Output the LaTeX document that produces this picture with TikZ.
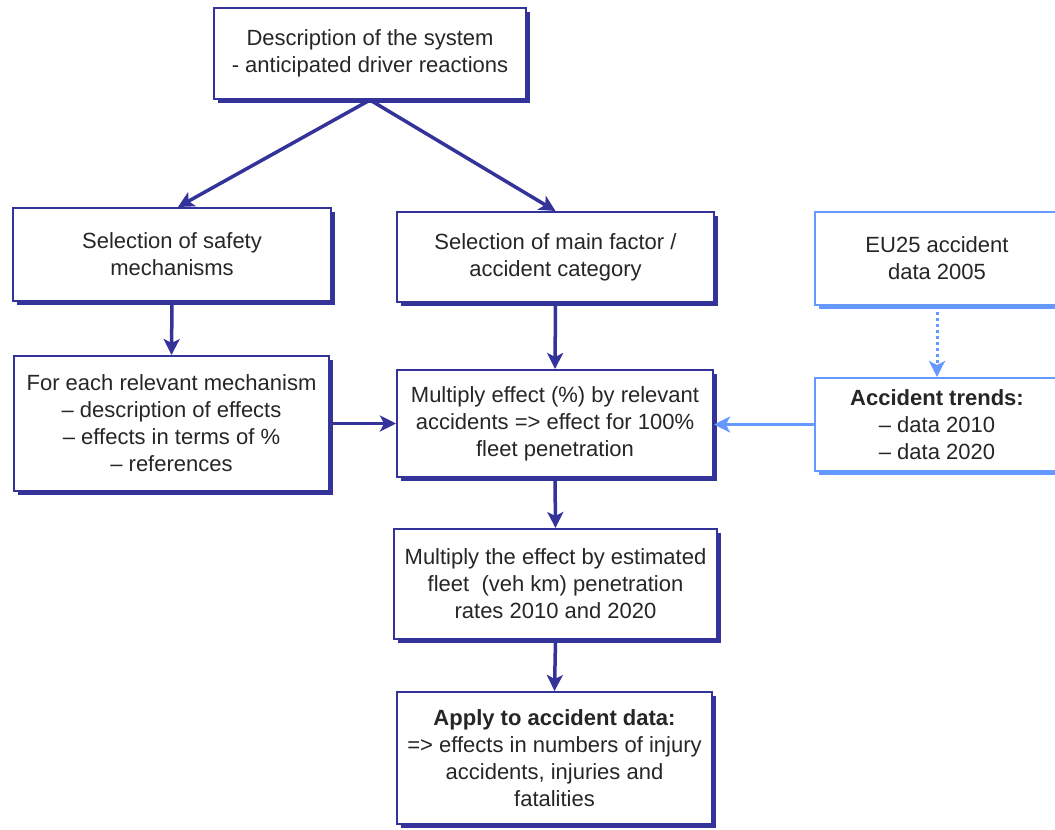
\documentclass[tikz,border=0pt]{standalone}
\usepackage{fontspec}
\setmainfont{Liberation Sans}
\usetikzlibrary{arrows.meta,shadows}
\definecolor{dblue}{HTML}{333399}
\definecolor{lblue}{HTML}{6699FF}
\begin{document}
\begin{tikzpicture}[x=1pt,y=-1pt,
  basebox/.style={line width=2pt, fill=white, text=black!85, align=center, inner sep=0pt,
    font=\fontsize{22}{27}\selectfont},
  box/.style={basebox, draw=dblue,
    drop shadow={shadow xshift=3.5pt, shadow yshift=-3.5pt, fill=dblue, opacity=1}},
  lbox/.style={basebox, draw=lblue,
    drop shadow={shadow xshift=3.5pt, shadow yshift=-3.5pt, fill=lblue, opacity=1}},
  arr/.style={draw=dblue, line width=3.5pt, -{Stealth[length=16pt,width=16pt,inset=4pt]}},
  larr/.style={draw=lblue, line width=3pt, -{Stealth[length=16pt,width=16pt,inset=4pt]}},
  ldot/.style={larr, dash pattern=on 3pt off 3pt}
]
\useasboundingbox (0,0) rectangle (1055,830);
\clip (0,0) rectangle (1055,830);

\node[box, minimum width=312pt, minimum height=91pt] (top) at (370,53.5)
  {Description of the system\\- anticipated driver reactions};
\node[box, minimum width=318pt, minimum height=93pt] (safety) at (172,254.5)
  {Selection of safety\\mechanisms};
\node[box, minimum width=317pt, minimum height=90pt] (factor) at (555.5,257)
  {Selection of main factor /\\accident category};
\node[lbox, minimum width=244pt, minimum height=93pt] (eu) at (937,258.5)
  {EU25 accident\\data 2005};
\node[box, minimum width=315pt, minimum height=135pt] (foreach) at (171.5,423.5)
  {For each relevant mechanism\\– description of effects\\– effects in terms of \%\\– references};
\node[box, minimum width=316pt, minimum height=107pt] (mult) at (555,423.5)
  {Multiply effect (\%) by relevant\\accidents => effect for 100\%\\fleet penetration};
\node[lbox, minimum width=244pt, minimum height=93pt] (trends) at (937,424.5)
  {\textbf{Accident trends:}\\– data 2010\\– data 2020};
\node[box, minimum width=323pt, minimum height=110pt] (fleet) at (555.5,584)
  {Multiply the effect by estimated\\fleet \ (veh km) penetration\\rates 2010 and 2020};
\node[box, minimum width=315pt, minimum height=132pt] (apply) at (554.5,758)
  {\textbf{Apply to accident data:}\\=> effects in numbers of injury\\accidents, injuries and\\fatalities};

\draw[arr] (top.south) -- ([xshift=6pt]safety.north);
\draw[arr] (top.south) -- (factor.north);
\draw[arr] (safety.south) -- (foreach.north);
\draw[arr] (factor.south) -- (mult.north);
\draw[arr] (foreach.east) -- (mult.west);
\draw[larr] (trends.west) -- (trends.west -| mult.east);
\draw[ldot] (eu.south) -- (trends.north);
\draw[arr] (mult.south) -- (fleet.north);
\draw[arr] (fleet.south) -- (apply.north);
\end{tikzpicture}
\end{document}
